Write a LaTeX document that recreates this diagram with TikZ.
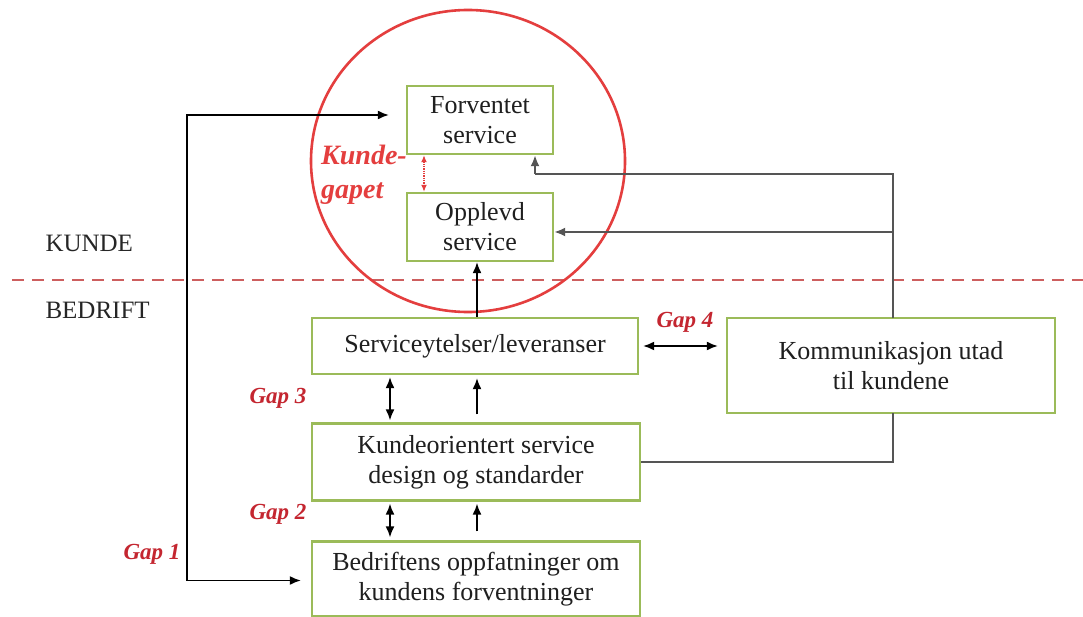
\documentclass[tikz,border=0pt]{standalone}
\usepackage{fontspec}
\setmainfont{Liberation Serif}
\usetikzlibrary{arrows.meta,calc,shapes.geometric}
\definecolor{boxgreen}{RGB}{155,187,89}
\definecolor{circred}{RGB}{228,62,62}
\definecolor{gapred}{RGB}{196,38,48}
\definecolor{dashred}{RGB}{205,95,95}
\definecolor{lgray}{RGB}{85,85,85}
\tikzset{
  box/.style={draw=boxgreen, line width=2.4pt, fill=white, align=center, inner sep=2pt,
    font=\fontsize{26}{30}\selectfont, text=black!88},
  arr/.style={line width=1.5pt, black, -{Latex[length=11pt,width=9pt]}},
  darr/.style={line width=1.5pt, black, {Latex[length=11pt,width=9pt]}-{Latex[length=11pt,width=9pt]}},
  garr/.style={line width=2pt, lgray, -{Latex[length=11pt,width=9pt]}},
  gline/.style={line width=2pt, lgray},
  gaplbl/.style={text=gapred, font=\fontsize{23}{26}\selectfont\bfseries\itshape},
  sidelbl/.style={font=\fontsize{25}{30}\selectfont, anchor=west, text=black!85},
}
\begin{document}
\begin{tikzpicture}[x=1pt,y=-1pt]
\useasboundingbox[fill=white] (0,0) rectangle (1083,617);

% dashed border line
\coordinate (dl) at (12,280);
\coordinate (dr) at (1083,280);
\draw[dashred, line width=1.6pt, dash pattern=on 12pt off 8pt] (dl) -- (dr);

% red circle
\node (circ) [draw=circred, line width=2.6pt, ellipse, minimum width=314pt, minimum height=302pt, inner sep=0pt] at (468,161) {};

% boxes
\node (fs) [box, minimum width=146pt, minimum height=68pt] at (480,120) {Forventet\\service};
\node (os) [box, minimum width=146pt, minimum height=68pt] at (480,227) {Opplevd\\service};
\node (sl) [box, minimum width=326pt, minimum height=56pt] at (475,346) {Serviceytelser/leveranser};
\node (ks) [box, minimum width=328pt, minimum height=77pt] at (476,462) {Kundeorientert service\\design og standarder};
\node (bo) [box, minimum width=328pt, minimum height=75pt] at (476,579) {Bedriftens oppfatninger om\\kundens forventninger};
\node (ku) [box, minimum width=328pt, minimum height=95pt] at (891,365.5) {Kommunikasjon utad\\til kundene};

% side labels
\node (kunde) [sidelbl] at (42,243) {KUNDE};
\node (bedrift) [sidelbl] at (42,310) {BEDRIFT};

% gap labels
\node (g1) [gaplbl] at (152,554) {Gap 1};
\node (g2) [gaplbl] at (278,514) {Gap 2};
\node (g3) [gaplbl] at (278,398) {Gap 3};
\node (g4) [gaplbl] at (685,322) {Gap 4};
\node (kg) [text=circred, font=\fontsize{28}{34}\selectfont\bfseries\itshape, align=left, anchor=west, inner sep=0pt] at (321,175) {Kunde-\\gapet};

% Gap 1 loop
\coordinate (g1x) at (187,300);
\draw[darr, shorten <=17pt, shorten >=10pt] ([yshift=5pt]fs.west) -| (g1x) |- ([yshift=-1.5pt]bo.west);

% Kundegapet
\coordinate (kx) at (424,0);
\draw[circred, line width=1.3pt, densely dotted, {Latex[length=7pt,width=6pt]}-{Latex[length=7pt,width=6pt]}] (kx |- fs.south) -- (kx |- os.north);

% service delivery up to perceived
\coordinate (ux) at (477,0);
\draw[arr] (ux |- sl.north) -- (ux |- os.south);

% between sl and ks
\coordinate (dx) at (390,0);
\draw[darr, shorten <=2pt, shorten >=2pt] (dx |- sl.south) -- (dx |- ks.north);
\draw[arr, shorten <=8pt, shorten >=3pt] (ux |- ks.north) -- (ux |- sl.south);

% between ks and bo
\draw[darr, shorten <=2pt, shorten >=3pt] (dx |- ks.south) -- (dx |- bo.north);
\draw[arr, shorten <=9pt, shorten >=2pt] (ux |- bo.north) -- (ux |- ks.south);

% Gap 4
\draw[darr, shorten <=4pt, shorten >=8pt] (sl.east) -- (sl.east -| ku.west);

% communication lines
\coordinate (t1) at (535,174);
\coordinate (t2) at (893,232);
\coordinate (kt) at (893,318);
\draw[gline] (kt) |- (t1);
\draw[garr] (t1) -- (t1 |- fs.south);
\draw[garr] (t2) -- (t2 -| os.east);
\coordinate (kb) at (893,413);
\draw[gline] (kb) |- (ks.east);
\end{tikzpicture}
\end{document}
